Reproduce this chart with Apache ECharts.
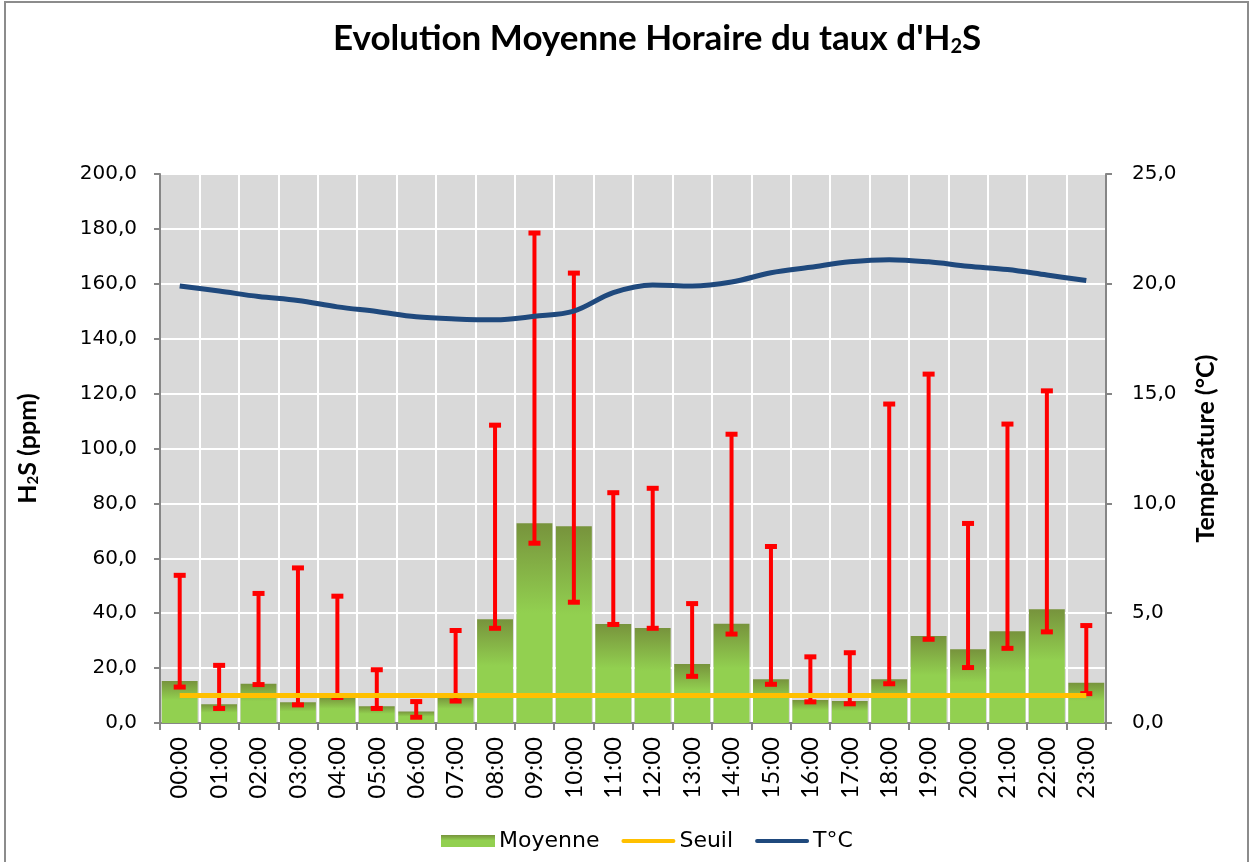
<!DOCTYPE html>
<html>
<head>
<meta charset="utf-8">
<script src="https://cdn.jsdelivr.net/npm/echarts@6/dist/echarts.min.js"></script>
<style>
  html,body{margin:0;padding:0;background:#fff;}
  #frame{position:absolute;left:4px;top:1px;width:1241px;height:880px;border:2px solid #8c8c8c;}
  #chart{position:absolute;left:0;top:0;width:1250px;height:862px;}
</style>
</head>
<body>
<div id="frame"></div>
<div id="chart"></div>
<script>
  var hours=['00:00','01:00','02:00','03:00','04:00','05:00','06:00','07:00','08:00','09:00','10:00','11:00',
    '12:00','13:00','14:00','15:00','16:00','17:00','18:00','19:00','20:00','21:00','22:00','23:00']

  // moyenne H2S (ppm)
  var moyenne=[15.3,6.8,14.3,7.6,9.4,6.1,4.2,9.4,37.8,72.8,71.7,36.1,
    34.6,21.5,36.2,15.9,8.4,8.0,15.9,31.7,26.9,33.4,41.4,14.7]
  // barres d'erreur : min / max
  var errBas=[13.1,5.3,14.0,6.6,9.3,5.3,2.1,8.0,34.5,65.5,44.0,35.9,
    34.5,17.0,32.4,14.1,7.7,7.0,14.3,30.5,20.2,27.2,33.2,10.7]
  var errHaut=[53.8,21.0,47.2,56.5,46.2,19.4,7.8,33.7,108.5,178.5,163.9,83.9,
    85.5,43.5,105.2,64.3,24.1,25.6,116.2,127.1,72.7,108.9,121.0,35.5]
  var seuil=[10,10,10,10,10,10,10,10,10,10,10,10,10,10,10,10,10,10,10,10,10,10,10,10]
  // temperature (°C)
  var temperature=[19.9,19.67,19.42,19.24,18.95,18.74,18.5,18.4,18.36,18.52,18.76,19.6,
    19.95,19.9,20.08,20.5,20.75,21.0,21.1,21.0,20.8,20.65,20.4,20.15]

  var ppmTicks=[0,20,40,60,80,100,120,140,160,180,200]
  var tempTicks=[0,5,10,15,20,25]

  var fmt=function (v) {
    return v.toFixed(1).replace('.',',')
  }

  var errData=[]
  hours.forEach(function (h,i) {
    errData.push([i,errBas[i],errHaut[i]])
  })

  var font='Lato'
  var wide='DejaVu Sans'
  var grey='#868686'
  // icone de legende : trait fin centre (les M fixent la boite 54x12)
  var lineIcon='path://M0,0 M54,12 M2,4 L52,4 A2,2 0 0 1 52,8 L2,8 A2,2 0 0 1 2,4 Z'

  var chart=echarts.init(document.getElementById('chart'))

  var option={
    textStyle:{fontFamily:font},
    animation:false,
    title:{
      text:"Evolution Moyenne Horaire du taux d'H{sub|2}S",
      left:328,
      top:16,
      textStyle:{
        fontFamily:font,
        fontSize:35,
        fontWeight:'bold',
        color:'#000',
        rich:{
          sub:{fontFamily:font,fontSize:20,fontWeight:'bold',color:'#000',padding:[16,0,0,0]}
        }
      }
    },
    legend:{
      bottom:5,
      left:436,
      itemWidth:54,
      itemHeight:12,
      itemGap:22,
      textStyle:{fontFamily:wide,fontSize:22,color:'#000',padding:[0,0,0,-1]},
      data:[
        {name:'Moyenne',icon:'rect'},
        {name:'Seuil',icon:lineIcon},
        {name:'T°C',icon:lineIcon}
      ]
    },
    grid:{
      left:160,
      right:144,
      top:174,
      bottom:139,
      show:true,
      backgroundColor:'#d9d9d9',
      borderWidth:0
    },
    xAxis:{
      type:'category',
      data:hours,
      boundaryGap:true,
      axisLine:{lineStyle:{color:grey,width:2}},
      axisTick:{show:true,interval:0,length:7,lineStyle:{color:grey,width:2}},
      axisLabel:{rotate:90,interval:0,fontSize:24,color:'#000',margin:14,fontFamily:font},
      splitLine:{show:true,interval:0,lineStyle:{color:'#fff',width:2}}
    },
    yAxis:[
      {
        type:'value',
        min:ppmTicks[0],
        max:ppmTicks[ppmTicks.length-1],
        interval:20,
        name:'H{sub|2}S (ppm)',
        nameLocation:'middle',
        nameRotate:90,
        nameGap:119,
        nameTextStyle:{
          fontFamily:font,fontSize:25,fontWeight:'bold',color:'#000',
          rich:{sub:{fontFamily:font,fontSize:15,fontWeight:'bold',color:'#000',padding:[11,0,0,0]}}
        },
        axisLine:{show:true,lineStyle:{color:grey,width:2}},
        axisTick:{show:true,length:6,lineStyle:{color:grey,width:2}},
        axisLabel:{formatter:fmt,fontSize:20,color:'#000',margin:23,fontFamily:wide},
        splitLine:{show:true,lineStyle:{color:'#fff',width:2}}
      },
      {
        type:'value',
        min:tempTicks[0],
        max:tempTicks[tempTicks.length-1],
        interval:5,
        position:'right',
        name:'Température (°C)',
        nameLocation:'middle',
        nameRotate:90,
        nameGap:87,
        nameTextStyle:{fontFamily:font,fontSize:25,fontWeight:'bold',color:'#000'},
        axisLine:{show:true,lineStyle:{color:grey,width:2}},
        axisTick:{show:true,length:6,lineStyle:{color:grey,width:2}},
        axisLabel:{formatter:fmt,fontSize:20,color:'#000',margin:26,fontFamily:wide},
        splitLine:{show:false}
      }
    ],
    series:[
      {
        name:'Moyenne',
        type:'bar',
        data:moyenne,
        barCategoryGap:'9%',
        itemStyle:{
          color:new echarts.graphic.LinearGradient(0,0,0,1,[
            {offset:0,color:'#77933c'},
            {offset:0.45,color:'#92d050'},
            {offset:1,color:'#92d050'}
          ])
        },
        z:2
      },
      {
        name:'Erreur',
        type:'custom',
        data:errData,
        encode:{x:0,y:[1,2]},
        renderItem:function (params,api) {
          var x=api.value(0)
          var lo=api.coord([x,api.value(1)])
          var hi=api.coord([x,api.value(2)])
          var cap=6
          return {
            type:'group',
            children:[
              {type:'line',shape:{x1:lo[0],y1:lo[1],x2:hi[0],y2:hi[1]},style:{stroke:'#ff0000',lineWidth:4}},
              {type:'line',shape:{x1:lo[0]-cap,y1:lo[1],x2:lo[0]+cap,y2:lo[1]},style:{stroke:'#ff0000',lineWidth:5}},
              {type:'line',shape:{x1:hi[0]-cap,y1:hi[1],x2:hi[0]+cap,y2:hi[1]},style:{stroke:'#ff0000',lineWidth:5}}
            ]
          }
        },
        z:3
      },
      {
        name:'Seuil',
        type:'line',
        data:seuil,
        symbol:'none',
        lineStyle:{color:'#ffc000',width:5},
        itemStyle:{color:'#ffc000'},
        z:4
      },
      {
        name:'T°C',
        type:'line',
        yAxisIndex:1,
        data:temperature,
        smooth:0.35,
        symbol:'none',
        lineStyle:{color:'#1f497d',width:5},
        itemStyle:{color:'#1f497d'},
        z:5
      }
    ]
  }

  chart.setOption(option)
</script>
</body>
</html>
